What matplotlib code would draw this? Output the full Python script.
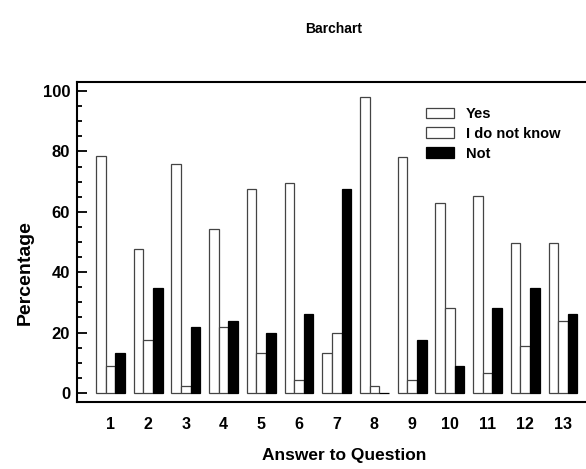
import matplotlib
matplotlib.use('Agg')
import matplotlib.pyplot as plt
import numpy as np
from matplotlib.ticker import MultipleLocator

questions = [str(i) for i in range(1, 14)]
yes = [78.5, 47.8, 76.0, 54.4, 67.5, 69.7, 13.1, 97.9, 78.3, 63.0, 65.3, 49.8, 49.8]
dont_know = [8.8, 17.7, 2.2, 21.8, 13.1, 4.3, 19.7, 2.2, 4.2, 28.3, 6.6, 15.4, 23.9]
not_ = [13.3, 34.9, 21.8, 23.9, 19.8, 26.3, 67.5, 0.0, 17.7, 8.8, 28.3, 34.9, 26.3]
series_labels = ['Yes', 'I do not know', 'Not']
yticks = [0, 20, 40, 60, 80, 100]

plt.rcParams['font.family'] = ['Liberation Sans', 'DejaVu Sans']
plt.rcParams['font.weight'] = 'bold'

W, H = 586, 469
fig = plt.figure(figsize=(W / 100, H / 100), dpi=100)
ax = fig.add_axes([77 / W, 1 - 402 / H, (W - 77) / W, (402 - 82) / H])

x = np.arange(1, len(questions) + 1)
w = 0.255
edge = '#444444'
ax.bar(x - w, yes, w, color='white', edgecolor=edge, linewidth=0.9, label=series_labels[0])
ax.bar(x, dont_know, w, color='white', edgecolor=edge, linewidth=0.9, label=series_labels[1])
ax.bar(x + w, not_, w, color='black', edgecolor='black', linewidth=0.9, label=series_labels[2])

ax.set_xlim(0.113, 13.61)
ax.set_ylim(-3, 103)
ax.set_xticks(x)
ax.set_xticklabels(questions, fontsize=11.5, fontweight='bold')
ax.set_yticks(yticks)
ax.set_yticklabels([str(v) for v in yticks], fontsize=12, fontweight='bold')
ax.yaxis.set_minor_locator(MultipleLocator(5))
ax.tick_params(axis='y', which='major', direction='in', length=7.2, width=1.3, pad=5)
ax.tick_params(axis='y', which='minor', direction='in', length=3.8, width=1.3)
ax.tick_params(axis='x', which='both', length=0, pad=11)
ax.spines['right'].set_visible(False)
for s in ['left', 'top', 'bottom']:
    ax.spines[s].set_linewidth(1.5)

fig.text(334 / W, 1 - 29 / H, 'Barchart', ha='center', va='center', fontsize=10,
         fontweight='bold')
fig.text(25 / W, 1 - 273 / H, 'Percentage', ha='center', va='center', rotation=90,
         fontsize=14, fontweight='bold')
fig.text(344 / W, 1 - 455 / H, 'Answer to Question', ha='center', va='center',
         fontsize=12.5, fontweight='bold')

leg = ax.legend(loc='upper left', bbox_to_anchor=(426 / W, 1 - 107 / H),
                bbox_transform=fig.transFigure, frameon=False, fontsize=10.5,
                handlelength=1.9, handleheight=0.75, handletextpad=0.85,
                labelspacing=0.4, borderpad=0, borderaxespad=0)
for t in leg.get_texts():
    t.set_fontweight('bold')

fig.savefig('out.png', dpi=100)
